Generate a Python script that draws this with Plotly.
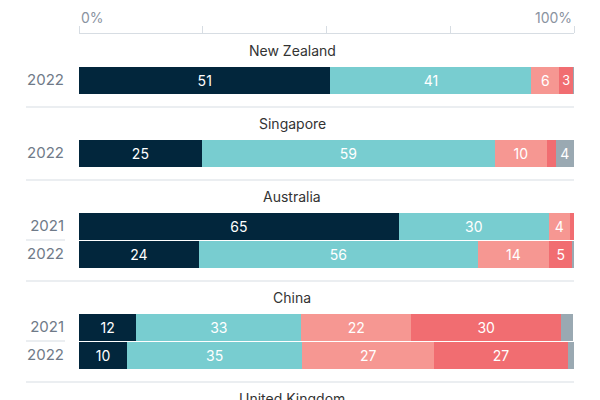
import plotly.graph_objects as go

# shares of respondents (%) per country and survey year
countries = ['New Zealand', 'Singapore', 'Australia', 'China']
years = [['2022'], ['2022'], ['2021', '2022'], ['2021', '2022']]

navy = [[50.8], [24.8], [64.6, 24.2], [11.6, 9.7]]
teal = [[40.6], [59.2], [30.3, 56.4], [33.3, 35.4]]
salmon = [[5.6], [10.5], [4.2, 14.3], [22.2, 26.7]]
red = [[2.8], [1.8], [0.9, 4.8], [30.3, 26.9]]
grey = [[0.2], [3.7], [0.0, 0.3], [2.4, 1.3]]

next_title = 'United Kingdom'

series = [navy, teal, salmon, red, grey]
colours = ['#02263c', '#78cdd0', '#f69792', '#f16d71', '#9aa9b2']

W, H = 600, 400
LEFT, RIGHT, TOP = 79, 26, 34
ROW = 28
TITLE_X = 292

def px_to_paper_x(px):
    return (px - LEFT) / (W - LEFT - RIGHT)

# work out row centres, titles and separators from the group structure
row_y, row_lab = [], []
title_y, seps, short_seps = [], [], []
top = TOP
for g, yrs in enumerate(years):
    if g > 0:
        seps.append(top)
    title_y.append(top + 16)
    for i, yr in enumerate(yrs):
        row_y.append(top + 46 + ROW * i)
        row_lab.append(yr)
        if i > 0:
            short_seps.append(top + 32 + ROW * i)
    top += 32 + ROW * len(yrs) + 13
seps.append(top)
title_y.append(top + 16)

fig = go.Figure()
for vals, col in zip(series, colours):
    flat = [v for grp in vals for v in grp]
    labels = [str(round(v)) if round(v) >= 3 else '' for v in flat]
    fig.add_trace(go.Bar(
        x=flat, y=row_y, orientation='h', width=27,
        marker=dict(color=col, line=dict(width=0)),
        text=labels, textposition='inside', insidetextanchor='middle',
        textangle=0, textfont=dict(color='white', size=14),
        hoverinfo='skip', showlegend=False))

shapes = []
for y in seps:
    shapes.append(dict(type='line', xref='paper', yref='y',
                       x0=px_to_paper_x(26), x1=1, y0=y, y1=y,
                       line=dict(color='#d7dde3', width=1)))
for y in short_seps:
    shapes.append(dict(type='line', xref='paper', yref='y',
                       x0=px_to_paper_x(26), x1=px_to_paper_x(65), y0=y, y1=y,
                       line=dict(color='#d7dde3', width=1)))

annotations = []
for name, ty in zip(countries + [next_title], title_y):
    annotations.append(dict(text=name, xref='paper', yref='y',
                            x=px_to_paper_x(TITLE_X), y=ty, showarrow=False,
                            xanchor='center', yanchor='middle',
                            font=dict(size=14, color='#333333')))
annotations.append(dict(text='0%', xref='paper', yref='paper', x=0, y=1,
                        yshift=17, xanchor='left', yanchor='middle',
                        showarrow=False, font=dict(size=14, color='#8a939f')))
annotations.append(dict(text='100%', xref='paper', yref='paper', x=1, y=1,
                        yshift=17, xanchor='right', yanchor='middle',
                        showarrow=False, font=dict(size=14, color='#8a939f')))

fig.update_layout(
    width=W, height=H, barmode='stack',
    margin=dict(l=LEFT, r=RIGHT, t=TOP, b=0),
    paper_bgcolor='white', plot_bgcolor='white',
    font=dict(family='Inter, sans-serif'),
    shapes=shapes, annotations=annotations,
    xaxis=dict(range=[0, 100], side='top', showgrid=False, zeroline=False,
               showline=True, linecolor='#d7dde3', linewidth=1,
               ticks='outside', ticklen=7, tickcolor='#d7dde3',
               tickvals=[0, 25, 50, 75, 100], showticklabels=False,
               automargin=False, fixedrange=True),
    yaxis=dict(range=[H, TOP], showgrid=False, zeroline=False,
               tickvals=row_y, ticktext=row_lab, ticks='',
               ticklabelstandoff=14, automargin=False,
               tickfont=dict(size=15, color='#6f7a88'), fixedrange=True),
)

# drop the default page margin so the figure sits at the window's corner
fig.write_html('out.html', config={'displayModeBar': False},
               post_script="document.body.style.margin='0';")
